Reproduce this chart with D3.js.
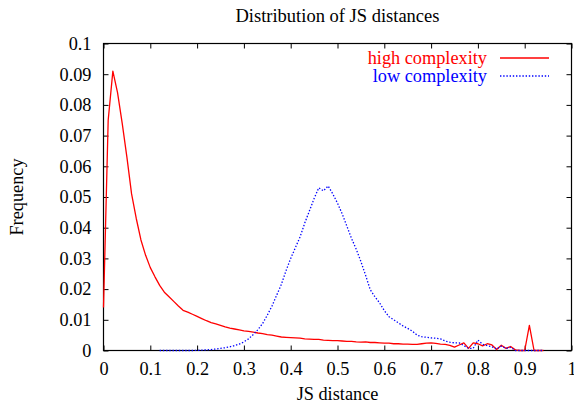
<!DOCTYPE html>
<html>
<head>
<meta charset="utf-8">
<script src="https://cdn.jsdelivr.net/npm/d3@7"></script>
<style>
  html, body { margin: 0; padding: 0; background: #fff; }
  svg text { font-family: "Liberation Serif", "DejaVu Serif", serif; }
</style>
</head>
<body>
<svg id="chart" width="574" height="404"></svg>
<script>
// Histogram of JS distances, bins every 0.01
const highX = d3.range(0, 95).map(i => +(i * 0.01).toFixed(2));
const highY = [
  0.014, 0.075, 0.091, 0.084, 0.074, 0.063, 0.051, 0.043, 0.036, 0.031,
  0.027, 0.024, 0.0212, 0.0190, 0.0175, 0.0160, 0.0145, 0.0131, 0.0125, 0.0118,
  0.0111, 0.0104, 0.0097, 0.0091, 0.0087, 0.0082, 0.0077, 0.0073, 0.0070, 0.0067,
  0.0064, 0.0062, 0.0060, 0.0057, 0.0055, 0.0052, 0.0050, 0.0047, 0.0044, 0.0043,
  0.0042, 0.0041, 0.0040, 0.0038, 0.0037, 0.0036, 0.0036, 0.0034, 0.0033, 0.0032,
  0.0032, 0.0031, 0.0030, 0.0030, 0.0028, 0.0027, 0.0028, 0.0026, 0.0026, 0.0025,
  0.0024, 0.0024, 0.0022, 0.0022, 0.0021, 0.0021, 0.0020, 0.0020, 0.0022, 0.0024,
  0.0025, 0.0023, 0.0021, 0.0020, 0.0017, 0.0011, 0.0018, 0.0025, 0.0007, 0.0025,
  0.0022, 0.0015, 0.0022, 0.0018, 0.0003, 0.0017, 0.0007, 0.0013, 0.0002, 0.0000,
  0.0000, 0.0082, 0.0000, 0.0000, 0.0000
];

const lowX = d3.range(12, 95).map(i => +(i * 0.01).toFixed(2));
const lowY = [
  0, 0, 0, 0, 0, 0, 0, 0, 0.00005,
  0.0001, 0.0002, 0.0003, 0.0005, 0.0007, 0.0009, 0.0012, 0.0016, 0.0021,
  0.0028, 0.0038, 0.0052, 0.0068, 0.0088, 0.0115, 0.0145, 0.0180, 0.0215, 0.0260,
  0.0300, 0.0335, 0.0370, 0.0415, 0.0455, 0.0495, 0.0530, 0.0520, 0.0536, 0.0510,
  0.0480, 0.0445, 0.0405, 0.0365, 0.0330, 0.0290, 0.0245, 0.0198, 0.0175, 0.0155,
  0.0130, 0.0110, 0.0100, 0.0090, 0.0080, 0.0072, 0.0063, 0.0050, 0.0045, 0.0043,
  0.0041, 0.0040, 0.0038, 0.0031, 0.0027, 0.0025, 0.0025, 0.0016, 0.0007, 0.0007,
  0.0034, 0.0020, 0.0016, 0.0012, 0.0005, 0.0014, 0.0007, 0.0010, 0.0000, 0.0000,
  0.0000, 0.0000, 0.0000, 0.0000, 0.0000
];

const xTicks = d3.range(0, 11).map(i => i / 10);
const yTicks = d3.range(0, 11).map(i => i / 100);
const xTickLabels = ["0", "0.1", "0.2", "0.3", "0.4", "0.5", "0.6", "0.7", "0.8", "0.9", "1"];
const yTickLabels = ["0", "0.01", "0.02", "0.03", "0.04", "0.05", "0.06", "0.07", "0.08", "0.09", "0.1"];

const series = [
  { name: "high complexity", xs: highX, ys: highY, color: "#ff0000", dash: null },
  { name: "low complexity", xs: lowX, ys: lowY, color: "#0000ff", dash: "1.4,1.8" }
];

const svg = d3.select("#chart");
const plotL = 103.5, plotR = 571.5, plotT = 43.5, plotB = 350.5;
const x = d3.scaleLinear().domain([0, 1]).range([plotL, plotR]);
const y = d3.scaleLinear().domain([0, 0.1]).range([plotB, plotT]);
const fontSize = 18.3;

// title
svg.append("text")
  .attr("x", (plotL + plotR) / 2).attr("y", 22)
  .attr("text-anchor", "middle").attr("font-size", 18.5)
  .text("Distribution of JS distances");

// axes with inward ticks on all four sides
const tickLen = 5;
const axisBottom = d3.axisBottom(x).tickValues(xTicks)
  .tickFormat((d, i) => xTickLabels[i]).tickSizeInner(-tickLen).tickSizeOuter(0).tickPadding(12);
const axisLeft = d3.axisLeft(y).tickValues(yTicks)
  .tickFormat((d, i) => yTickLabels[i]).tickSizeInner(-tickLen).tickSizeOuter(0).tickPadding(12);
const axisTop = d3.axisTop(x).tickValues(xTicks).tickFormat("").tickSizeInner(-tickLen).tickSizeOuter(0);
const axisRight = d3.axisRight(y).tickValues(yTicks).tickFormat("").tickSizeInner(-tickLen).tickSizeOuter(0);

function style(g) {
  g.select(".domain").remove();
  g.selectAll(".tick line").attr("stroke", "#000").attr("stroke-width", 1);
  g.selectAll(".tick text").attr("font-size", fontSize)
    .attr("font-family", "Liberation Serif, serif").attr("fill", "#000");
}
svg.append("g").attr("transform", `translate(0,${plotB})`).call(axisBottom).call(style);
svg.append("g").attr("transform", `translate(${plotL},0)`).call(axisLeft).call(style);
svg.append("g").attr("transform", `translate(0,${plotT})`).call(axisTop).call(style);
svg.append("g").attr("transform", `translate(${plotR},0)`).call(axisRight).call(style);

// border
svg.append("rect")
  .attr("x", plotL).attr("y", plotT)
  .attr("width", plotR - plotL).attr("height", plotB - plotT)
  .attr("fill", "none").attr("stroke", "#000").attr("stroke-width", 1.2);

// axis titles
svg.append("text")
  .attr("x", (plotL + plotR) / 2).attr("y", 400)
  .attr("text-anchor", "middle").attr("font-size", fontSize)
  .text("JS distance");
svg.append("text")
  .attr("transform", `translate(23,${(plotT + plotB) / 2}) rotate(-90)`)
  .attr("text-anchor", "middle").attr("font-size", fontSize)
  .text("Frequency");

// series lines
const line = d3.line();
series.forEach(s => {
  const pts = s.xs.map((v, i) => [x(v), y(s.ys[i])]);
  svg.append("path")
    .attr("d", line(pts))
    .attr("fill", "none")
    .attr("stroke", s.color)
    .attr("stroke-width", 1.3)
    .attr("stroke-linejoin", "round")
    .attr("stroke-dasharray", s.dash);
});

// legend
const legend = svg.append("g");
series.forEach((s, i) => {
  const ly = 58 + i * 18;
  legend.append("text")
    .attr("x", 487).attr("y", ly + 6)
    .attr("text-anchor", "end").attr("font-size", fontSize)
    .attr("fill", s.color)
    .text(s.name);
  legend.append("line")
    .attr("x1", 500).attr("x2", 549)
    .attr("y1", ly).attr("y2", ly)
    .attr("stroke", s.color).attr("stroke-width", 1.3)
    .attr("stroke-dasharray", s.dash);
});
</script>
</body>
</html>
